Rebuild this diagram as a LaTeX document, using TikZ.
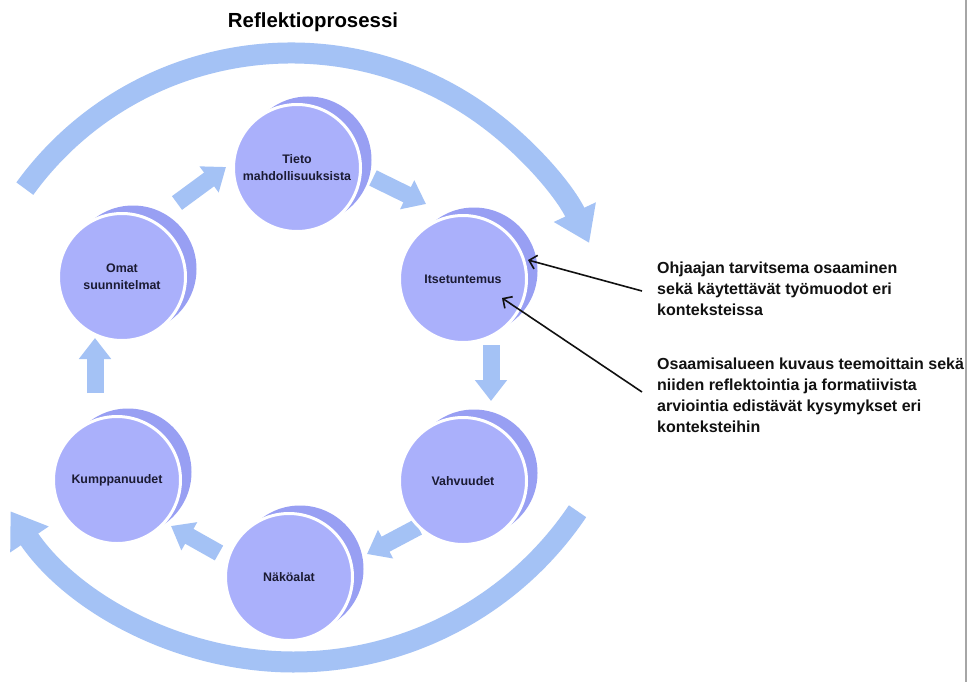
\documentclass[tikz,border=0pt]{standalone}
\usepackage{fontspec}
\setmainfont{Liberation Sans}
\usetikzlibrary{arrows.meta,shadows,calc}

\definecolor{stagefill}{HTML}{AAB0FB}
\definecolor{stageback}{HTML}{989FF3}
\definecolor{flowblue}{HTML}{A4C2F5}
\definecolor{labelink}{HTML}{1B1B33}
\definecolor{noteink}{HTML}{111111}

\begin{document}
\begin{tikzpicture}[x=1pt,y=-1pt,
  stage/.style={circle, minimum size=127pt, inner sep=0pt, fill=stagefill,
    draw=white, line width=3pt, text=labelink, align=center,
    font=\bfseries\fontsize{12.4}{17}\selectfont,
    copy shadow={shadow xshift=11pt, shadow yshift=8pt, fill=stageback, draw=none}},
  blockarrow/.style={draw=flowblue, line width=17pt, -{Triangle[length=21pt,width=31pt]}},
  cyclearc/.style={draw=flowblue, line width=21pt, -{Triangle[length=34pt,width=44pt]}},
  note/.style={font=\bfseries\fontsize{16}{21}\selectfont, text=noteink,
    align=left, anchor=west, inner sep=0pt},
  pointer/.style={draw=noteink, line width=1.6pt, -{Straight Barb[length=7pt,width=14pt]}}
]

\useasboundingbox (0,0) rectangle (968,682);
\fill[white] (0,0) rectangle (968,682);
\draw[gray!70, line width=1.2pt] (966,0) -- (966,682);

% title
\node[font=\bfseries\fontsize{20.4}{24}\selectfont] (title) at (313,22) {Reflektioprosessi};

% outer cycle arcs
\draw[cyclearc] (291,382) ++(-144:329) arc[start angle=-144, end angle=-25, radius=329];
\draw[cyclearc] (294,320) ++(34:342) arc[start angle=34, end angle=146, radius=342];

% block arrows between the stages
\coordinate (a1s) at (95,393);  \coordinate (a1e) at (95,338);
\coordinate (a2s) at (177,203); \coordinate (a2e) at (226,167);
\coordinate (a3s) at (373,178); \coordinate (a3e) at (426,204);
\coordinate (a4s) at (491,345); \coordinate (a4e) at (491,401);
\coordinate (a5s) at (418,527); \coordinate (a5e) at (367,554);
\coordinate (a6s) at (219,553); \coordinate (a6e) at (171,526);
\foreach \i in {1,...,6} \draw[blockarrow] (a\i s) -- (a\i e);

% stages
\node[stage] (tieto) at (297,168) {Tieto\\mahdollisuuksista};
\node[stage] (itse)  at (463,279) {Itsetuntemus};
\node[stage] (vahv)  at (463,481) {Vahvuudet};
\node[stage] (nako)  at (289,577) {Näköalat};
\node[stage] (kump)  at (117,480) {Kumppanuudet};
\node[stage] (omat)  at (122,277) {Omat\\suunnitelmat};

% notes with pointers
\node[note] (note1) at (657,289) {Ohjaajan tarvitsema osaaminen\\sekä käytettävät työmuodot eri\\konteksteissa};
\node[note] (note2) at (657,395) {Osaamisalueen kuvaus teemoittain sekä\\niiden reflektointia ja formatiivista\\arviointia edistävät kysymykset eri\\konteksteihin};

\coordinate (p1) at ($(itse)+(65,-19)$);
\coordinate (p2) at ($(itse)+(39,19)$);
\draw[pointer] ($(note1.west)+(-15,2)$) -- (p1);
\draw[pointer] ($(note2.west)+(-15,-3)$) -- (p2);

\end{tikzpicture}
\end{document}
